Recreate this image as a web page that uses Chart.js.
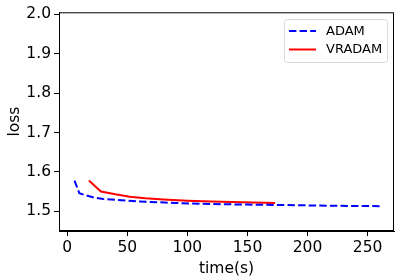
<!DOCTYPE html>
<html>
<head>
<meta charset="utf-8">
<script src="https://cdn.jsdelivr.net/npm/chart.js@4.4.0/dist/chart.umd.min.js"></script>
<style>
  html, body { margin: 0; padding: 0; background: #fff; }
  #wrap { width: 400px; height: 278px; }
</style>
</head>
<body>
<div id="wrap"><canvas id="lossChart" width="400" height="278"></canvas></div>
<script>
// values
const adamTime = [6, 10, 16, 22, 30, 40, 50, 60, 75, 90, 110, 130, 150, 175, 200, 225, 260];
const adamLoss = [1.578, 1.546, 1.540, 1.535, 1.531, 1.529, 1.527, 1.525, 1.523, 1.521, 1.519, 1.518, 1.517, 1.516, 1.515, 1.514, 1.513];
const vradamTime = [18, 28, 40, 52, 65, 80, 100, 120, 145, 173];
const vradamLoss = [1.578, 1.550, 1.543, 1.537, 1.533, 1.530, 1.527, 1.525, 1.523, 1.521];
const seriesNames = ['ADAM', 'VRADAM'];
const xTitle = 'time(s)';
const yTitle = 'loss';

const FONT = 'DejaVu Sans';

function toPoints(xs, ys) {
  return xs.map((x, i) => ({ x: x, y: ys[i] }));
}

// matplotlib style frame + legend box in the upper right
const framePlugin = {
  id: 'frame',
  afterDraw(chart) {
    const ctx = chart.ctx;
    const a = chart.chartArea;
    ctx.save();
    ctx.strokeStyle = '#000';
    ctx.lineWidth = 1;
    ctx.strokeRect(a.left + 0.5, a.top + 0.5, a.right - a.left - 1, a.bottom - a.top - 1);

    // legend
    const bx = 284, by = 19, bw = 103, bh = 43;
    ctx.fillStyle = 'rgba(255,255,255,0.8)';
    ctx.strokeStyle = '#d9d9d9';
    ctx.beginPath();
    ctx.roundRect(bx + 0.5, by + 0.5, bw, bh, 3);
    ctx.fill();
    ctx.stroke();
    ctx.font = '13px "' + FONT + '"';
    ctx.textBaseline = 'middle';
    chart.data.datasets.forEach((ds, i) => {
      const y = by + 12 + i * 18.5;
      ctx.strokeStyle = ds.borderColor;
      ctx.lineWidth = ds.borderWidth;
      ctx.setLineDash(ds.borderDash || []);
      ctx.beginPath();
      ctx.moveTo(bx + 5, y);
      ctx.lineTo(bx + 32, y);
      ctx.stroke();
      ctx.setLineDash([]);
      ctx.fillStyle = '#000';
      ctx.fillText(ds.label, bx + 42, y + 0.5);
    });
    ctx.restore();
  }
};

const ctx = document.getElementById('lossChart').getContext('2d');
const lossChart = new Chart(ctx, {
  type: 'line',
  data: {
    datasets: [
      {
        label: seriesNames[0],
        data: toPoints(adamTime, adamLoss),
        borderColor: '#0000ff',
        borderWidth: 2,
        borderDash: [7.4, 3.2],
        pointRadius: 0,
        tension: 0,
        fill: false
      },
      {
        label: seriesNames[1],
        data: toPoints(vradamTime, vradamLoss),
        borderColor: '#ff0000',
        borderWidth: 2,
        pointRadius: 0,
        tension: 0,
        fill: false
      }
    ]
  },
  options: {
    responsive: false,
    animation: false,
    layout: { padding: { left: 6, right: 6, top: 12, bottom: 0 } },
    scales: {
      x: {
        type: 'linear',
        min: -6.9,
        max: 272,
        afterFit(scale) { scale.height = 47; },
        ticks: {
          stepSize: 50,
          includeBounds: false,
          color: '#000',
          padding: 3,
          maxRotation: 0,
          font: { family: FONT, size: 15.5 }
        },
        grid: {
          display: true,
          drawOnChartArea: false,
          drawTicks: true,
          tickLength: 5,
          color: '#000'
        },
        border: { display: true, color: '#000' },
        title: {
          display: true,
          text: xTitle,
          color: '#000',
          padding: { top: 0, bottom: 0 },
          font: { family: FONT, size: 15.5 }
        }
      },
      y: {
        min: 1.45,
        max: 2.005,
        afterFit(scale) { scale.width = 53; },
        ticks: {
          stepSize: 0.1,
          includeBounds: false,
          color: '#000',
          padding: 3,
          font: { family: FONT, size: 15.5 },
          callback: (v) => v.toFixed(1)
        },
        grid: {
          display: true,
          drawOnChartArea: false,
          drawTicks: true,
          tickLength: 5,
          color: '#000'
        },
        border: { display: true, color: '#000' },
        title: {
          display: true,
          text: yTitle,
          color: '#000',
          padding: { top: 0, bottom: 0 },
          font: { family: FONT, size: 15.5 }
        }
      }
    },
    plugins: {
      legend: { display: false },
      tooltip: { enabled: false }
    }
  },
  plugins: [framePlugin]
});
</script>
</body>
</html>
